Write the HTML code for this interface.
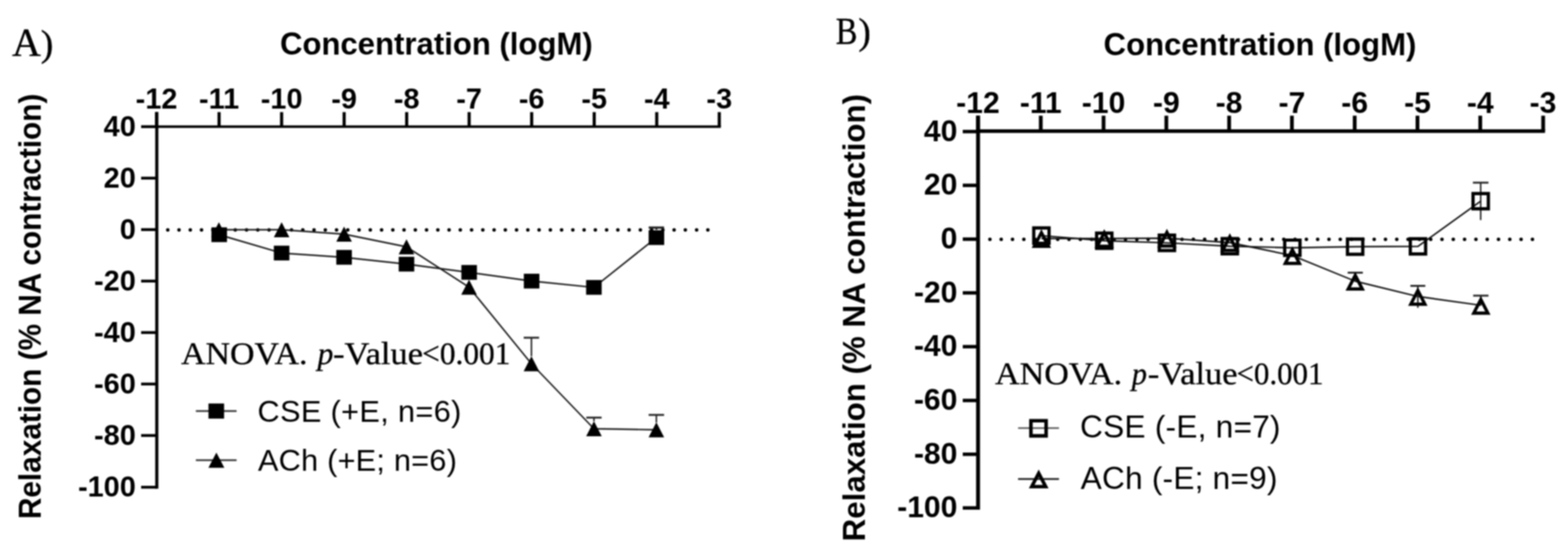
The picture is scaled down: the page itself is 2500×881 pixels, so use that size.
<!DOCTYPE html>
<html><head><meta charset="utf-8"><title>Relaxation curves</title>
<style>html,body{margin:0;padding:0;background:#fff;width:2500px;height:881px;overflow:hidden}svg{display:block;filter:blur(1px)}</style>
</head><body>
<svg width="2500" height="881" viewBox="0 0 2500 881" font-family="'Liberation Sans', Arial, sans-serif">
<rect width="2500" height="881" fill="#fff"/>
<g font-family="'Liberation Serif', 'Times New Roman', serif" stroke="#000" stroke-width="0.6"><text x="19.3" y="88.5" font-size="63" textLength="46" lengthAdjust="spacingAndGlyphs">A</text><text x="65" y="88.5" font-size="60">)</text></g>
<g font-family="'Liberation Serif', 'Times New Roman', serif" stroke="#000" stroke-width="0.6"><text x="1332.5" y="70" font-size="61" textLength="34.5" lengthAdjust="spacingAndGlyphs">B</text><text x="1368.5" y="70" font-size="60">)</text></g>
<text x="695.7" y="86.8" font-size="49.6" font-weight="bold" text-anchor="middle">Concentration (logM)</text>
<text x="2008.9" y="87.9" font-size="49.6" font-weight="bold" text-anchor="middle">Concentration (logM)</text>
<text transform="translate(64.6 827) rotate(-90)" font-size="50" font-weight="bold" textLength="677.8" lengthAdjust="spacingAndGlyphs">Relaxation (% NA contraction)</text>
<text transform="translate(1379.2 862.4) rotate(-90)" font-size="50" font-weight="bold" textLength="712.7" lengthAdjust="spacingAndGlyphs">Relaxation (% NA contraction)</text>
<line x1="247.5" y1="201.8" x2="1149.3" y2="201.8" stroke="#000" stroke-width="4.0"/>
<line x1="250.0" y1="178.6" x2="250.0" y2="778.5" stroke="#000" stroke-width="5.0"/>
<line x1="249.6" y1="178.6" x2="249.6" y2="201.8" stroke="#000" stroke-width="5.0"/>
<text x="249.6" y="172.9" font-size="46" font-weight="bold" text-anchor="middle">-12</text>
<line x1="349.3" y1="178.6" x2="349.3" y2="201.8" stroke="#000" stroke-width="5.0"/>
<text x="349.3" y="172.9" font-size="46" font-weight="bold" text-anchor="middle">-11</text>
<line x1="449.0" y1="178.6" x2="449.0" y2="201.8" stroke="#000" stroke-width="5.0"/>
<text x="449.0" y="172.9" font-size="46" font-weight="bold" text-anchor="middle">-10</text>
<line x1="548.7" y1="178.6" x2="548.7" y2="201.8" stroke="#000" stroke-width="5.0"/>
<text x="548.7" y="172.9" font-size="46" font-weight="bold" text-anchor="middle">-9</text>
<line x1="648.4" y1="178.6" x2="648.4" y2="201.8" stroke="#000" stroke-width="5.0"/>
<text x="648.4" y="172.9" font-size="46" font-weight="bold" text-anchor="middle">-8</text>
<line x1="748.0" y1="178.6" x2="748.0" y2="201.8" stroke="#000" stroke-width="5.0"/>
<text x="748.0" y="172.9" font-size="46" font-weight="bold" text-anchor="middle">-7</text>
<line x1="847.7" y1="178.6" x2="847.7" y2="201.8" stroke="#000" stroke-width="5.0"/>
<text x="847.7" y="172.9" font-size="46" font-weight="bold" text-anchor="middle">-6</text>
<line x1="947.4" y1="178.6" x2="947.4" y2="201.8" stroke="#000" stroke-width="5.0"/>
<text x="947.4" y="172.9" font-size="46" font-weight="bold" text-anchor="middle">-5</text>
<line x1="1047.1" y1="178.6" x2="1047.1" y2="201.8" stroke="#000" stroke-width="5.0"/>
<text x="1047.1" y="172.9" font-size="46" font-weight="bold" text-anchor="middle">-4</text>
<line x1="1146.8" y1="178.6" x2="1146.8" y2="201.8" stroke="#000" stroke-width="5.0"/>
<text x="1146.8" y="172.9" font-size="46" font-weight="bold" text-anchor="middle">-3</text>
<line x1="225.0" y1="201.8" x2="250.0" y2="201.8" stroke="#000" stroke-width="4.5"/>
<text x="216.5" y="217.3" font-size="46" font-weight="bold" text-anchor="end">40</text>
<line x1="225.0" y1="283.8" x2="250.0" y2="283.8" stroke="#000" stroke-width="4.5"/>
<text x="216.5" y="299.3" font-size="46" font-weight="bold" text-anchor="end">20</text>
<line x1="225.0" y1="365.8" x2="250.0" y2="365.8" stroke="#000" stroke-width="4.5"/>
<text x="216.5" y="381.3" font-size="46" font-weight="bold" text-anchor="end">0</text>
<line x1="225.0" y1="447.8" x2="250.0" y2="447.8" stroke="#000" stroke-width="4.5"/>
<text x="216.5" y="463.3" font-size="46" font-weight="bold" text-anchor="end">-20</text>
<line x1="225.0" y1="529.8" x2="250.0" y2="529.8" stroke="#000" stroke-width="4.5"/>
<text x="216.5" y="545.3" font-size="46" font-weight="bold" text-anchor="end">-40</text>
<line x1="225.0" y1="611.8" x2="250.0" y2="611.8" stroke="#000" stroke-width="4.5"/>
<text x="216.5" y="627.3" font-size="46" font-weight="bold" text-anchor="end">-60</text>
<line x1="225.0" y1="693.8" x2="250.0" y2="693.8" stroke="#000" stroke-width="4.5"/>
<text x="216.5" y="709.3" font-size="46" font-weight="bold" text-anchor="end">-80</text>
<line x1="225.0" y1="776.2" x2="250.0" y2="776.2" stroke="#000" stroke-width="4.5"/>
<text x="216.5" y="791.3" font-size="46" font-weight="bold" text-anchor="end">-100</text>
<path d="M267.5 366.2h0 M285.4 366.2h0 M303.4 366.2h0 M321.3 366.2h0 M339.3 366.2h0 M357.2 366.2h0 M375.1 366.2h0 M393.1 366.2h0 M411.0 366.2h0 M429.0 366.2h0 M446.9 366.2h0 M464.8 366.2h0 M482.8 366.2h0 M500.7 366.2h0 M518.7 366.2h0 M536.6 366.2h0 M554.5 366.2h0 M572.5 366.2h0 M590.4 366.2h0 M608.4 366.2h0 M626.3 366.2h0 M644.2 366.2h0 M662.2 366.2h0 M680.1 366.2h0 M698.1 366.2h0 M716.0 366.2h0 M733.9 366.2h0 M751.9 366.2h0 M769.8 366.2h0 M787.8 366.2h0 M805.7 366.2h0 M823.6 366.2h0 M841.6 366.2h0 M859.5 366.2h0 M877.5 366.2h0 M895.4 366.2h0 M913.3 366.2h0 M931.3 366.2h0 M949.2 366.2h0 M967.2 366.2h0 M985.1 366.2h0 M1003.0 366.2h0 M1021.0 366.2h0 M1038.9 366.2h0 M1056.9 366.2h0 M1074.8 366.2h0 M1092.7 366.2h0 M1110.7 366.2h0 M1128.6 366.2h0" stroke="#000" stroke-width="5.6" stroke-linecap="round"/>
<path d="M349.0 366.0 L449.0 366.0 L548.6 373.0 L648.1 393.3 L747.8 457.5 L847.3 579.5 L947.0 683.0 L1046.5 684.7" fill="none" stroke="#1a1a1a" stroke-width="2.4" stroke-linejoin="round"/>
<path d="M349.5 374.0 L449.0 403.2 L548.6 410.0 L648.1 420.8 L748.0 434.0 L847.6 447.8 L946.9 457.9 L1046.6 378.5" fill="none" stroke="#1a1a1a" stroke-width="2.4" stroke-linejoin="round"/>
<line x1="847.3" y1="538.0" x2="847.3" y2="567.5" stroke="#222" stroke-width="2.4"/><line x1="835.0" y1="538.0" x2="859.5" y2="538.0" stroke="#222" stroke-width="3.0"/>
<line x1="947.0" y1="665.3" x2="947.0" y2="671.0" stroke="#222" stroke-width="2.4"/><line x1="934.8" y1="665.3" x2="959.2" y2="665.3" stroke="#222" stroke-width="3.0"/>
<line x1="1046.5" y1="661.0" x2="1046.5" y2="673.0" stroke="#222" stroke-width="2.4"/><line x1="1034.2" y1="661.0" x2="1058.8" y2="661.0" stroke="#222" stroke-width="3.0"/>
<line x1="1046.6" y1="362.6" x2="1046.6" y2="366.0" stroke="#222" stroke-width="3"/><line x1="1034.3" y1="362.6" x2="1058.8" y2="362.6" stroke="#222" stroke-width="3.6"/>
<path d="M349.0 354.0L361.4 378.0L336.6 378.0Z" fill="#000"/>
<path d="M449.0 354.0L461.4 378.0L436.6 378.0Z" fill="#000"/>
<path d="M548.6 361.0L561.0 385.0L536.2 385.0Z" fill="#000"/>
<path d="M648.1 381.3L660.5 405.3L635.7 405.3Z" fill="#000"/>
<path d="M747.8 445.5L760.2 469.5L735.4 469.5Z" fill="#000"/>
<path d="M847.3 567.5L859.7 591.5L834.9 591.5Z" fill="#000"/>
<path d="M947.0 671.0L959.4 695.0L934.6 695.0Z" fill="#000"/>
<path d="M1046.5 672.7L1058.9 696.7L1034.1 696.7Z" fill="#000"/>
<rect x="337.1" y="362.2" width="24.8" height="23.5" fill="#000"/>
<rect x="436.6" y="391.4" width="24.8" height="23.5" fill="#000"/>
<rect x="536.2" y="398.2" width="24.8" height="23.5" fill="#000"/>
<rect x="635.7" y="409.1" width="24.8" height="23.5" fill="#000"/>
<rect x="735.6" y="422.2" width="24.8" height="23.5" fill="#000"/>
<rect x="835.2" y="436.1" width="24.8" height="23.5" fill="#000"/>
<rect x="934.5" y="446.1" width="24.8" height="23.5" fill="#000"/>
<rect x="1034.2" y="366.8" width="24.8" height="23.5" fill="#000"/>
<g font-family="'Liberation Serif', 'Times New Roman', serif" font-size="51" stroke="#000" stroke-width="0.5"><text x="288.8" y="579.5" textLength="201.5" lengthAdjust="spacingAndGlyphs">ANOVA.</text><text x="506.3" y="579.5" font-style="italic" textLength="25.3" lengthAdjust="spacingAndGlyphs">p</text><text x="531.0" y="579.5" textLength="143.4" lengthAdjust="spacingAndGlyphs">-Value</text><text x="673.0" y="579.5" textLength="140.8" lengthAdjust="spacingAndGlyphs">&lt;0.001</text></g>
<path d="M312.3 654.9 L377.2 654.9" fill="none" stroke="#333" stroke-width="2.6" stroke-linejoin="round"/>
<rect x="332.4" y="642.8" width="24.9" height="24.1" fill="#000"/>
<text x="410.5" y="672.3" font-size="49" letter-spacing="0.53">CSE (+E, n=6)</text>
<path d="M312.3 733.1 L377.2 733.1" fill="none" stroke="#333" stroke-width="2.6" stroke-linejoin="round"/>
<path d="M345.0 721.1L357.7 745.3L332.3 745.3Z" fill="#000"/>
<text x="411.2" y="750" font-size="49" letter-spacing="0.34">ACh (+E; n=6)</text>
<line x1="1556.3" y1="208.9" x2="2463.4" y2="208.9" stroke="#000" stroke-width="5.8"/>
<line x1="1559.4" y1="184.3" x2="1559.4" y2="812.0" stroke="#000" stroke-width="6.2"/>
<line x1="1559.3" y1="184.3" x2="1559.3" y2="208.9" stroke="#000" stroke-width="6.0"/>
<text x="1559.3" y="179.7" font-size="48" font-weight="bold" text-anchor="middle">-12</text>
<line x1="1659.4" y1="184.3" x2="1659.4" y2="208.9" stroke="#000" stroke-width="6.0"/>
<text x="1659.4" y="179.7" font-size="48" font-weight="bold" text-anchor="middle">-11</text>
<line x1="1759.5" y1="184.3" x2="1759.5" y2="208.9" stroke="#000" stroke-width="6.0"/>
<text x="1759.5" y="179.7" font-size="48" font-weight="bold" text-anchor="middle">-10</text>
<line x1="1859.6" y1="184.3" x2="1859.6" y2="208.9" stroke="#000" stroke-width="6.0"/>
<text x="1859.6" y="179.7" font-size="48" font-weight="bold" text-anchor="middle">-9</text>
<line x1="1959.7" y1="184.3" x2="1959.7" y2="208.9" stroke="#000" stroke-width="6.0"/>
<text x="1959.7" y="179.7" font-size="48" font-weight="bold" text-anchor="middle">-8</text>
<line x1="2059.8" y1="184.3" x2="2059.8" y2="208.9" stroke="#000" stroke-width="6.0"/>
<text x="2059.8" y="179.7" font-size="48" font-weight="bold" text-anchor="middle">-7</text>
<line x1="2159.9" y1="184.3" x2="2159.9" y2="208.9" stroke="#000" stroke-width="6.0"/>
<text x="2159.9" y="179.7" font-size="48" font-weight="bold" text-anchor="middle">-6</text>
<line x1="2260.0" y1="184.3" x2="2260.0" y2="208.9" stroke="#000" stroke-width="6.0"/>
<text x="2260.0" y="179.7" font-size="48" font-weight="bold" text-anchor="middle">-5</text>
<line x1="2360.1" y1="184.3" x2="2360.1" y2="208.9" stroke="#000" stroke-width="6.0"/>
<text x="2360.1" y="179.7" font-size="48" font-weight="bold" text-anchor="middle">-4</text>
<line x1="2460.4" y1="184.3" x2="2460.4" y2="208.9" stroke="#000" stroke-width="6.0"/>
<text x="2460.2" y="179.7" font-size="48" font-weight="bold" text-anchor="middle">-3</text>
<line x1="1535.0" y1="209.6" x2="1559.4" y2="209.6" stroke="#000" stroke-width="5.5"/>
<text x="1526.5" y="224.6" font-size="48" font-weight="bold" text-anchor="end">40</text>
<line x1="1535.0" y1="295.3" x2="1559.4" y2="295.3" stroke="#000" stroke-width="5.5"/>
<text x="1526.5" y="310.3" font-size="48" font-weight="bold" text-anchor="end">20</text>
<line x1="1535.0" y1="381.0" x2="1559.4" y2="381.0" stroke="#000" stroke-width="5.5"/>
<text x="1526.5" y="396.0" font-size="48" font-weight="bold" text-anchor="end">0</text>
<line x1="1535.0" y1="466.6" x2="1559.4" y2="466.6" stroke="#000" stroke-width="5.5"/>
<text x="1526.5" y="481.6" font-size="48" font-weight="bold" text-anchor="end">-20</text>
<line x1="1535.0" y1="552.3" x2="1559.4" y2="552.3" stroke="#000" stroke-width="5.5"/>
<text x="1526.5" y="567.3" font-size="48" font-weight="bold" text-anchor="end">-40</text>
<line x1="1535.0" y1="638.0" x2="1559.4" y2="638.0" stroke="#000" stroke-width="5.5"/>
<text x="1526.5" y="653.0" font-size="48" font-weight="bold" text-anchor="end">-60</text>
<line x1="1535.0" y1="723.7" x2="1559.4" y2="723.7" stroke="#000" stroke-width="5.5"/>
<text x="1526.5" y="738.7" font-size="48" font-weight="bold" text-anchor="end">-80</text>
<line x1="1535.0" y1="809.2" x2="1559.4" y2="809.2" stroke="#000" stroke-width="5.5"/>
<text x="1526.5" y="824.4" font-size="48" font-weight="bold" text-anchor="end">-100</text>
<path d="M1578.3 381.2h0 M1596.3 381.2h0 M1614.3 381.2h0 M1632.4 381.2h0 M1650.4 381.2h0 M1668.4 381.2h0 M1686.4 381.2h0 M1704.4 381.2h0 M1722.5 381.2h0 M1740.5 381.2h0 M1758.5 381.2h0 M1776.5 381.2h0 M1794.5 381.2h0 M1812.6 381.2h0 M1830.6 381.2h0 M1848.6 381.2h0 M1866.6 381.2h0 M1884.6 381.2h0 M1902.7 381.2h0 M1920.7 381.2h0 M1938.7 381.2h0 M1956.7 381.2h0 M1974.7 381.2h0 M1992.8 381.2h0 M2010.8 381.2h0 M2028.8 381.2h0 M2046.8 381.2h0 M2064.8 381.2h0 M2082.9 381.2h0 M2100.9 381.2h0 M2118.9 381.2h0 M2136.9 381.2h0 M2154.9 381.2h0 M2173.0 381.2h0 M2191.0 381.2h0 M2209.0 381.2h0 M2227.0 381.2h0 M2245.0 381.2h0 M2263.1 381.2h0 M2281.1 381.2h0 M2299.1 381.2h0 M2317.1 381.2h0 M2335.1 381.2h0 M2353.2 381.2h0 M2371.2 381.2h0 M2389.2 381.2h0 M2407.2 381.2h0 M2425.2 381.2h0 M2443.3 381.2h0" stroke="#000" stroke-width="5.6" stroke-linecap="round"/>
<path d="M1660.4 380.0 L1760.6 380.0 L1860.5 379.5 L1960.8 386.5 L2060.5 407.2 L2160.8 448.0 L2260.6 472.3 L2361.0 486.4" fill="none" stroke="#111" stroke-width="2.4" stroke-linejoin="round"/>
<path d="M1660.4 375.4 L1760.6 383.5 L1860.5 386.9 L1960.8 392.3 L2060.5 394.7 L2160.6 393.0 L2260.8 392.5 L2360.8 320.5" fill="none" stroke="#111" stroke-width="2.4" stroke-linejoin="round"/>
<line x1="2360.8" y1="291.0" x2="2360.8" y2="350.6" stroke="#222" stroke-width="2.4"/><line x1="2348.4" y1="291.0" x2="2373.2" y2="291.0" stroke="#222" stroke-width="3.0"/>
<line x1="2160.8" y1="434.4" x2="2160.8" y2="448.0" stroke="#222" stroke-width="2.4"/><line x1="2148.7" y1="434.4" x2="2172.9" y2="434.4" stroke="#222" stroke-width="3.0"/>
<line x1="2260.6" y1="455.4" x2="2260.6" y2="490.4" stroke="#222" stroke-width="2.4"/><line x1="2248.7" y1="455.4" x2="2272.5" y2="455.4" stroke="#222" stroke-width="3.0"/>
<line x1="2361.0" y1="471.0" x2="2361.0" y2="486.4" stroke="#222" stroke-width="2.4"/><line x1="2348.8" y1="471.0" x2="2373.2" y2="471.0" stroke="#222" stroke-width="3.0"/>
<path d="M1645.6 360.6h29.6v29.6h-29.6Z M1650.8 365.8v19.2h19.2v-19.2Z" fill="#000" fill-rule="evenodd"/>
<path d="M1745.8 368.7h29.6v29.6h-29.6Z M1751.0 373.9v19.2h19.2v-19.2Z" fill="#000" fill-rule="evenodd"/>
<path d="M1845.7 372.1h29.6v29.6h-29.6Z M1850.9 377.3v19.2h19.2v-19.2Z" fill="#000" fill-rule="evenodd"/>
<path d="M1946.0 377.5h29.6v29.6h-29.6Z M1951.2 382.7v19.2h19.2v-19.2Z" fill="#000" fill-rule="evenodd"/>
<path d="M2045.7 379.9h29.6v29.6h-29.6Z M2050.9 385.1v19.2h19.2v-19.2Z" fill="#000" fill-rule="evenodd"/>
<path d="M2145.8 378.2h29.6v29.6h-29.6Z M2151.0 383.4v19.2h19.2v-19.2Z" fill="#000" fill-rule="evenodd"/>
<path d="M2246.0 377.7h29.6v29.6h-29.6Z M2251.2 382.9v19.2h19.2v-19.2Z" fill="#000" fill-rule="evenodd"/>
<path d="M2346.0 305.7h29.6v29.6h-29.6Z M2351.2 310.9v19.2h19.2v-19.2Z" fill="#000" fill-rule="evenodd"/>
<path d="M1660.4 365.0L1675.9 395.0L1644.9 395.0Z M1660.4 376.3L1653.4 389.8L1667.4 389.8Z" fill="#000" fill-rule="evenodd"/>
<path d="M1760.6 365.0L1776.1 395.0L1745.1 395.0Z M1760.6 376.3L1753.6 389.8L1767.6 389.8Z" fill="#000" fill-rule="evenodd"/>
<path d="M1860.5 364.5L1876.0 394.5L1845.0 394.5Z M1860.5 375.8L1853.5 389.3L1867.5 389.3Z" fill="#000" fill-rule="evenodd"/>
<path d="M1960.8 371.5L1976.3 401.5L1945.3 401.5Z M1960.8 382.8L1953.8 396.3L1967.8 396.3Z" fill="#000" fill-rule="evenodd"/>
<path d="M2060.5 392.2L2076.0 422.2L2045.0 422.2Z M2060.5 403.5L2053.5 417.0L2067.5 417.0Z" fill="#000" fill-rule="evenodd"/>
<path d="M2160.8 433.0L2176.3 463.0L2145.3 463.0Z M2160.8 444.3L2153.8 457.8L2167.8 457.8Z" fill="#000" fill-rule="evenodd"/>
<path d="M2260.6 457.3L2276.1 487.3L2245.1 487.3Z M2260.6 468.6L2253.6 482.1L2267.6 482.1Z" fill="#000" fill-rule="evenodd"/>
<path d="M2361.0 471.4L2376.5 501.4L2345.5 501.4Z M2361.0 482.7L2354.0 496.2L2368.0 496.2Z" fill="#000" fill-rule="evenodd"/>
<g font-family="'Liberation Serif', 'Times New Roman', serif" font-size="51" stroke="#000" stroke-width="0.5"><text x="1586.6" y="612.1" textLength="202.4" lengthAdjust="spacingAndGlyphs">ANOVA.</text><text x="1804.6" y="612.1" font-style="italic" textLength="24.2" lengthAdjust="spacingAndGlyphs">p</text><text x="1829.9" y="612.1" textLength="143.2" lengthAdjust="spacingAndGlyphs">-Value</text><text x="1971.6" y="612.1" textLength="138.5" lengthAdjust="spacingAndGlyphs">&lt;0.001</text></g>
<path d="M1623.2 682.0 L1688.4 682.0" fill="none" stroke="#555" stroke-width="2.6" stroke-linejoin="round"/>
<path d="M1640.9 667.4h29.8v29.8h-29.8Z M1646.5 673.0v18.6h18.6v-18.6Z" fill="#000" fill-rule="evenodd"/>
<text x="1722" y="697.3" font-size="50.5" letter-spacing="0.33">CSE (-E, n=7)</text>
<path d="M1623.2 763.1 L1688.4 763.1" fill="none" stroke="#1a1a1a" stroke-width="2.6" stroke-linejoin="round"/>
<path d="M1656.1 748.0L1671.8 778.0L1640.4 778.0Z M1656.1 759.9L1649.5 772.5L1662.7 772.5Z" fill="#000" fill-rule="evenodd"/>
<text x="1723" y="778.5" font-size="50.5" letter-spacing="0.3">ACh (-E; n=9)</text>
</svg>
</body></html>
